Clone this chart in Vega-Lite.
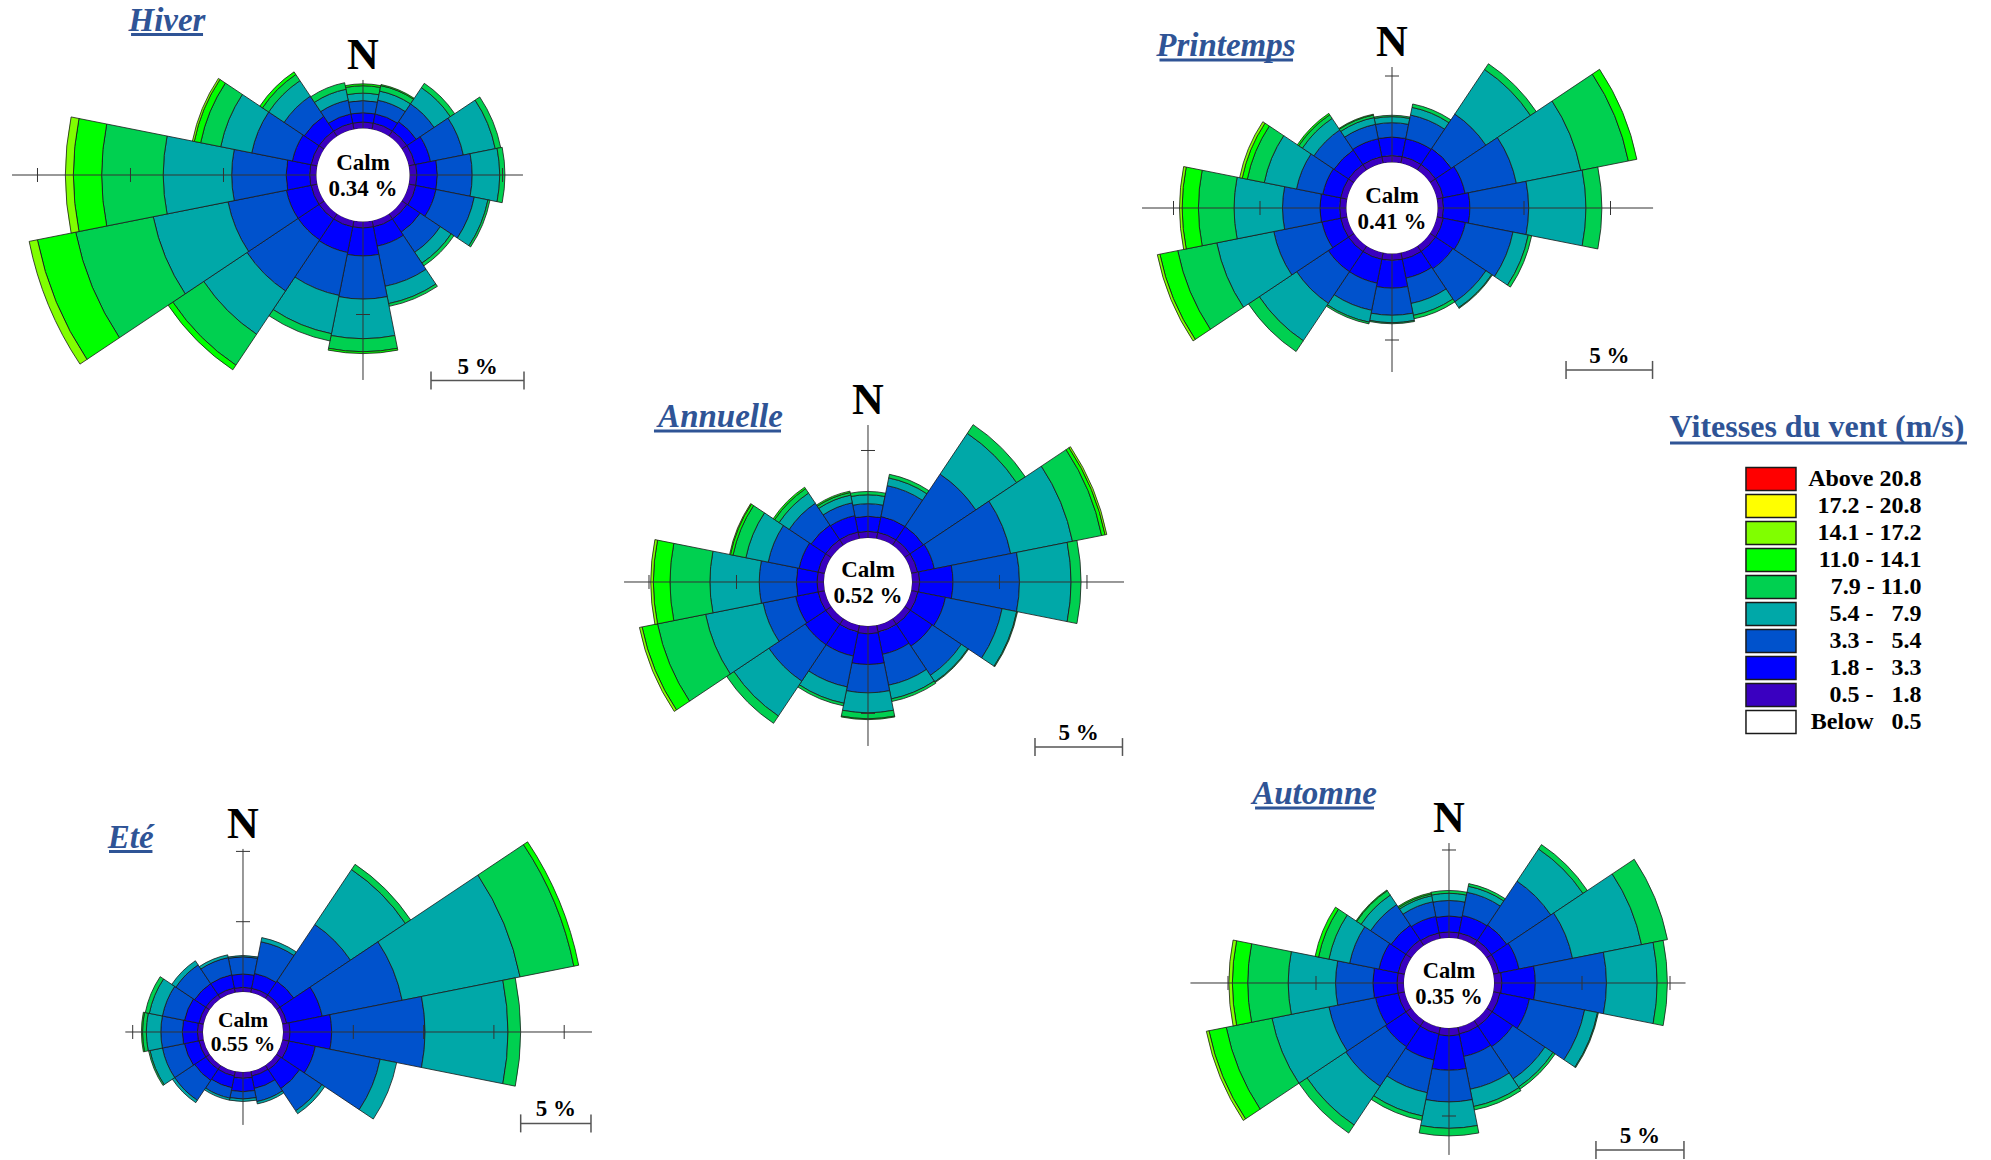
{
"$schema": "https://vega.github.io/schema/vega-lite/v6.json",
"padding": 0,
"background": "#ffffff",
"config": {"view": {"stroke": null}, "font": "Liberation Serif"},
"datasets": {
"calm": [{"s":"Hiver","t":"0.34 %"},{"s":"Printemps","t":"0.41 %"},{"s":"Annuelle","t":"0.52 %"},{"s":"Eté","t":"0.55 %"},{"s":"Automne","t":"0.35 %"}],
"rose": [
{"s":"Hiver","d":0,"c":1,"v":0.35},{"s":"Hiver","d":0,"c":2,"v":0.5},{"s":"Hiver","d":0,"c":3,"v":0.65},{"s":"Hiver","d":0,"c":4,"v":0.4},{"s":"Hiver","d":0,"c":5,"v":0.4},{"s":"Hiver","d":0,"c":6,"v":0.1},
{"s":"Hiver","d":22.5,"c":1,"v":0.35},{"s":"Hiver","d":22.5,"c":2,"v":0.5},{"s":"Hiver","d":22.5,"c":3,"v":0.75},{"s":"Hiver","d":22.5,"c":4,"v":0.5},{"s":"Hiver","d":22.5,"c":5,"v":0.3},{"s":"Hiver","d":22.5,"c":6,"v":0.06},
{"s":"Hiver","d":45,"c":1,"v":0.35},{"s":"Hiver","d":45,"c":2,"v":0.6},{"s":"Hiver","d":45,"c":3,"v":1.15},{"s":"Hiver","d":45,"c":4,"v":1.05},{"s":"Hiver","d":45,"c":5,"v":0.28},
{"s":"Hiver","d":67.5,"c":1,"v":0.35},{"s":"Hiver","d":67.5,"c":2,"v":0.85},{"s":"Hiver","d":67.5,"c":3,"v":1.8},{"s":"Hiver","d":67.5,"c":4,"v":1.75},{"s":"Hiver","d":67.5,"c":5,"v":0.3},
{"s":"Hiver","d":90,"c":1,"v":0.4},{"s":"Hiver","d":90,"c":2,"v":1.1},{"s":"Hiver","d":90,"c":3,"v":1.87},{"s":"Hiver","d":90,"c":4,"v":1.48},{"s":"Hiver","d":90,"c":5,"v":0.28},
{"s":"Hiver","d":112.5,"c":1,"v":0.4},{"s":"Hiver","d":112.5,"c":2,"v":1.1},{"s":"Hiver","d":112.5,"c":3,"v":2.1},{"s":"Hiver","d":112.5,"c":4,"v":0.75},{"s":"Hiver","d":112.5,"c":5,"v":0.11},
{"s":"Hiver","d":135,"c":1,"v":0.35},{"s":"Hiver","d":135,"c":2,"v":0.85},{"s":"Hiver","d":135,"c":3,"v":1.3},{"s":"Hiver","d":135,"c":4,"v":0.7},{"s":"Hiver","d":135,"c":5,"v":0.18},
{"s":"Hiver","d":157.5,"c":1,"v":0.35},{"s":"Hiver","d":157.5,"c":2,"v":1.05},{"s":"Hiver","d":157.5,"c":3,"v":2.2},{"s":"Hiver","d":157.5,"c":4,"v":0.95},{"s":"Hiver","d":157.5,"c":5,"v":0.15},
{"s":"Hiver","d":180,"c":1,"v":0.35},{"s":"Hiver","d":180,"c":2,"v":1.5},{"s":"Hiver","d":180,"c":3,"v":2.32},{"s":"Hiver","d":180,"c":4,"v":2.13},{"s":"Hiver","d":180,"c":5,"v":0.7},{"s":"Hiver","d":180,"c":6,"v":0.1},
{"s":"Hiver","d":202.5,"c":1,"v":0.35},{"s":"Hiver","d":202.5,"c":2,"v":1.4},{"s":"Hiver","d":202.5,"c":3,"v":2.35},{"s":"Hiver","d":202.5,"c":4,"v":2.1},{"s":"Hiver","d":202.5,"c":5,"v":0.4},
{"s":"Hiver","d":225,"c":1,"v":0.35},{"s":"Hiver","d":225,"c":2,"v":1.35},{"s":"Hiver","d":225,"c":3,"v":3.3},{"s":"Hiver","d":225,"c":4,"v":2.8},{"s":"Hiver","d":225,"c":5,"v":2.0},{"s":"Hiver","d":225,"c":6,"v":0.3},
{"s":"Hiver","d":247.5,"c":1,"v":0.35},{"s":"Hiver","d":247.5,"c":2,"v":1.35},{"s":"Hiver","d":247.5,"c":3,"v":3.2},{"s":"Hiver","d":247.5,"c":4,"v":4.1},{"s":"Hiver","d":247.5,"c":5,"v":4.25},{"s":"Hiver","d":247.5,"c":6,"v":2.1},{"s":"Hiver","d":247.5,"c":7,"v":0.45},
{"s":"Hiver","d":270,"c":1,"v":0.37},{"s":"Hiver","d":270,"c":2,"v":1.26},{"s":"Hiver","d":270,"c":3,"v":2.93},{"s":"Hiver","d":270,"c":4,"v":3.68},{"s":"Hiver","d":270,"c":5,"v":3.31},{"s":"Hiver","d":270,"c":6,"v":1.52},{"s":"Hiver","d":270,"c":7,"v":0.43},
{"s":"Hiver","d":292.5,"c":1,"v":0.35},{"s":"Hiver","d":292.5,"c":2,"v":1.02},{"s":"Hiver","d":292.5,"c":3,"v":2.23},{"s":"Hiver","d":292.5,"c":4,"v":1.7},{"s":"Hiver","d":292.5,"c":5,"v":1.1},{"s":"Hiver","d":292.5,"c":6,"v":0.35},{"s":"Hiver","d":292.5,"c":7,"v":0.1},
{"s":"Hiver","d":315,"c":1,"v":0.35},{"s":"Hiver","d":315,"c":2,"v":0.95},{"s":"Hiver","d":315,"c":3,"v":1.3},{"s":"Hiver","d":315,"c":4,"v":1.0},{"s":"Hiver","d":315,"c":5,"v":0.4},{"s":"Hiver","d":315,"c":6,"v":0.17},
{"s":"Hiver","d":337.5,"c":1,"v":0.35},{"s":"Hiver","d":337.5,"c":2,"v":0.5},{"s":"Hiver","d":337.5,"c":3,"v":0.75},{"s":"Hiver","d":337.5,"c":4,"v":0.6},{"s":"Hiver","d":337.5,"c":5,"v":0.36},

{"s":"Printemps","d":0,"c":1,"v":0.4},{"s":"Printemps","d":0,"c":2,"v":1.07},{"s":"Printemps","d":0,"c":3,"v":0.83},{"s":"Printemps","d":0,"c":4,"v":0.35},{"s":"Printemps","d":0,"c":5,"v":0.08},
{"s":"Printemps","d":22.5,"c":1,"v":0.4},{"s":"Printemps","d":22.5,"c":2,"v":1.05},{"s":"Printemps","d":22.5,"c":3,"v":1.4},{"s":"Printemps","d":22.5,"c":4,"v":0.45},{"s":"Printemps","d":22.5,"c":5,"v":0.2},
{"s":"Printemps","d":45,"c":1,"v":0.4},{"s":"Printemps","d":45,"c":2,"v":1.1},{"s":"Printemps","d":45,"c":3,"v":2.4},{"s":"Printemps","d":45,"c":4,"v":3.1},{"s":"Printemps","d":45,"c":5,"v":0.4},
{"s":"Printemps","d":67.5,"c":1,"v":0.4},{"s":"Printemps","d":67.5,"c":2,"v":1.28},{"s":"Printemps","d":67.5,"c":3,"v":3.02},{"s":"Printemps","d":67.5,"c":4,"v":3.8},{"s":"Printemps","d":67.5,"c":5,"v":2.8},{"s":"Printemps","d":67.5,"c":6,"v":0.5},
{"s":"Printemps","d":90,"c":1,"v":0.35},{"s":"Printemps","d":90,"c":2,"v":1.52},{"s":"Printemps","d":90,"c":3,"v":3.4},{"s":"Printemps","d":90,"c":4,"v":3.31},{"s":"Printemps","d":90,"c":5,"v":0.92},
{"s":"Printemps","d":112.5,"c":1,"v":0.4},{"s":"Printemps","d":112.5,"c":2,"v":1.3},{"s":"Printemps","d":112.5,"c":3,"v":2.8},{"s":"Printemps","d":112.5,"c":4,"v":0.9},{"s":"Printemps","d":112.5,"c":5,"v":0.2},
{"s":"Printemps","d":135,"c":1,"v":0.4},{"s":"Printemps","d":135,"c":2,"v":1.2},{"s":"Printemps","d":135,"c":3,"v":2.3},{"s":"Printemps","d":135,"c":4,"v":0.4},{"s":"Printemps","d":135,"c":5,"v":0.05},
{"s":"Printemps","d":157.5,"c":1,"v":0.4},{"s":"Printemps","d":157.5,"c":2,"v":1.1},{"s":"Printemps","d":157.5,"c":3,"v":1.5},{"s":"Printemps","d":157.5,"c":4,"v":0.7},{"s":"Printemps","d":157.5,"c":5,"v":0.2},
{"s":"Printemps","d":180,"c":1,"v":0.4},{"s":"Printemps","d":180,"c":2,"v":1.6},{"s":"Printemps","d":180,"c":3,"v":1.57},{"s":"Printemps","d":180,"c":4,"v":0.43},{"s":"Printemps","d":180,"c":5,"v":0.06},
{"s":"Printemps","d":202.5,"c":1,"v":0.4},{"s":"Printemps","d":202.5,"c":2,"v":1.4},{"s":"Printemps","d":202.5,"c":3,"v":1.6},{"s":"Printemps","d":202.5,"c":4,"v":0.7},{"s":"Printemps","d":202.5,"c":5,"v":0.1},
{"s":"Printemps","d":225,"c":1,"v":0.4},{"s":"Printemps","d":225,"c":2,"v":1.4},{"s":"Printemps","d":225,"c":3,"v":2.2},{"s":"Printemps","d":225,"c":4,"v":2.6},{"s":"Printemps","d":225,"c":5,"v":0.75},
{"s":"Printemps","d":247.5,"c":1,"v":0.4},{"s":"Printemps","d":247.5,"c":2,"v":1.1},{"s":"Printemps","d":247.5,"c":3,"v":2.84},{"s":"Printemps","d":247.5,"c":4,"v":3.36},{"s":"Printemps","d":247.5,"c":5,"v":2.3},{"s":"Printemps","d":247.5,"c":6,"v":1.05},{"s":"Printemps","d":247.5,"c":7,"v":0.15},
{"s":"Printemps","d":270,"c":1,"v":0.4},{"s":"Printemps","d":270,"c":2,"v":1.14},{"s":"Printemps","d":270,"c":3,"v":2.16},{"s":"Printemps","d":270,"c":4,"v":2.8},{"s":"Printemps","d":270,"c":5,"v":2.06},{"s":"Printemps","d":270,"c":6,"v":0.94},{"s":"Printemps","d":270,"c":7,"v":0.15},
{"s":"Printemps","d":292.5,"c":1,"v":0.4},{"s":"Printemps","d":292.5,"c":2,"v":1.05},{"s":"Printemps","d":292.5,"c":3,"v":1.55},{"s":"Printemps","d":292.5,"c":4,"v":1.9},{"s":"Printemps","d":292.5,"c":5,"v":1.0},{"s":"Printemps","d":292.5,"c":6,"v":0.3},{"s":"Printemps","d":292.5,"c":7,"v":0.15},
{"s":"Printemps","d":315,"c":1,"v":0.4},{"s":"Printemps","d":315,"c":2,"v":1.0},{"s":"Printemps","d":315,"c":3,"v":1.4},{"s":"Printemps","d":315,"c":4,"v":0.8},{"s":"Printemps","d":315,"c":5,"v":0.25},{"s":"Printemps","d":315,"c":6,"v":0.1},
{"s":"Printemps","d":337.5,"c":1,"v":0.4},{"s":"Printemps","d":337.5,"c":2,"v":1.05},{"s":"Printemps","d":337.5,"c":3,"v":0.85},{"s":"Printemps","d":337.5,"c":4,"v":0.4},{"s":"Printemps","d":337.5,"c":5,"v":0.15},{"s":"Printemps","d":337.5,"c":6,"v":0.05},

{"s":"Annuelle","d":0,"c":1,"v":0.38},{"s":"Annuelle","d":0,"c":2,"v":0.86},{"s":"Annuelle","d":0,"c":3,"v":0.72},{"s":"Annuelle","d":0,"c":4,"v":0.51},{"s":"Annuelle","d":0,"c":5,"v":0.19},
{"s":"Annuelle","d":22.5,"c":1,"v":0.38},{"s":"Annuelle","d":22.5,"c":2,"v":0.92},{"s":"Annuelle","d":22.5,"c":3,"v":1.8},{"s":"Annuelle","d":22.5,"c":4,"v":0.45},{"s":"Annuelle","d":22.5,"c":5,"v":0.21},
{"s":"Annuelle","d":45,"c":1,"v":0.38},{"s":"Annuelle","d":45,"c":2,"v":0.92},{"s":"Annuelle","d":45,"c":3,"v":3.6},{"s":"Annuelle","d":45,"c":4,"v":2.8},{"s":"Annuelle","d":45,"c":5,"v":0.6},
{"s":"Annuelle","d":67.5,"c":1,"v":0.38},{"s":"Annuelle","d":67.5,"c":2,"v":0.97},{"s":"Annuelle","d":67.5,"c":3,"v":4.45},{"s":"Annuelle","d":67.5,"c":4,"v":3.6},{"s":"Annuelle","d":67.5,"c":5,"v":1.7},{"s":"Annuelle","d":67.5,"c":6,"v":0.2},{"s":"Annuelle","d":67.5,"c":7,"v":0.1},
{"s":"Annuelle","d":90,"c":1,"v":0.44},{"s":"Annuelle","d":90,"c":2,"v":1.9},{"s":"Annuelle","d":90,"c":3,"v":3.8},{"s":"Annuelle","d":90,"c":4,"v":2.95},{"s":"Annuelle","d":90,"c":5,"v":0.57},
{"s":"Annuelle","d":112.5,"c":1,"v":0.4},{"s":"Annuelle","d":112.5,"c":2,"v":1.6},{"s":"Annuelle","d":112.5,"c":3,"v":3.3},{"s":"Annuelle","d":112.5,"c":4,"v":0.85},{"s":"Annuelle","d":112.5,"c":5,"v":0.05},
{"s":"Annuelle","d":135,"c":1,"v":0.4},{"s":"Annuelle","d":135,"c":2,"v":1.5},{"s":"Annuelle","d":135,"c":3,"v":2.0},{"s":"Annuelle","d":135,"c":4,"v":0.45},{"s":"Annuelle","d":135,"c":5,"v":0.05},
{"s":"Annuelle","d":157.5,"c":1,"v":0.4},{"s":"Annuelle","d":157.5,"c":2,"v":1.3},{"s":"Annuelle","d":157.5,"c":3,"v":1.8},{"s":"Annuelle","d":157.5,"c":4,"v":0.8},{"s":"Annuelle","d":157.5,"c":5,"v":0.15},
{"s":"Annuelle","d":180,"c":1,"v":0.45},{"s":"Annuelle","d":180,"c":2,"v":1.75},{"s":"Annuelle","d":180,"c":3,"v":1.62},{"s":"Annuelle","d":180,"c":4,"v":1.14},{"s":"Annuelle","d":180,"c":5,"v":0.34},{"s":"Annuelle","d":180,"c":6,"v":0.05},
{"s":"Annuelle","d":202.5,"c":1,"v":0.4},{"s":"Annuelle","d":202.5,"c":2,"v":1.4},{"s":"Annuelle","d":202.5,"c":3,"v":1.8},{"s":"Annuelle","d":202.5,"c":4,"v":0.95},{"s":"Annuelle","d":202.5,"c":5,"v":0.15},
{"s":"Annuelle","d":225,"c":1,"v":0.4},{"s":"Annuelle","d":225,"c":2,"v":1.4},{"s":"Annuelle","d":225,"c":3,"v":2.5},{"s":"Annuelle","d":225,"c":4,"v":2.4},{"s":"Annuelle","d":225,"c":5,"v":0.5},
{"s":"Annuelle","d":247.5,"c":1,"v":0.4},{"s":"Annuelle","d":247.5,"c":2,"v":1.3},{"s":"Annuelle","d":247.5,"c":3,"v":1.9},{"s":"Annuelle","d":247.5,"c":4,"v":3.35},{"s":"Annuelle","d":247.5,"c":5,"v":2.8},{"s":"Annuelle","d":247.5,"c":6,"v":0.9},{"s":"Annuelle","d":247.5,"c":7,"v":0.15},
{"s":"Annuelle","d":270,"c":1,"v":0.4},{"s":"Annuelle","d":270,"c":2,"v":1.18},{"s":"Annuelle","d":270,"c":3,"v":2.12},{"s":"Annuelle","d":270,"c":4,"v":2.82},{"s":"Annuelle","d":270,"c":5,"v":2.28},{"s":"Annuelle","d":270,"c":6,"v":0.95},{"s":"Annuelle","d":270,"c":7,"v":0.15},
{"s":"Annuelle","d":292.5,"c":1,"v":0.4},{"s":"Annuelle","d":292.5,"c":2,"v":1.1},{"s":"Annuelle","d":292.5,"c":3,"v":1.8},{"s":"Annuelle","d":292.5,"c":4,"v":1.3},{"s":"Annuelle","d":292.5,"c":5,"v":0.75},{"s":"Annuelle","d":292.5,"c":6,"v":0.15},{"s":"Annuelle","d":292.5,"c":7,"v":0.05},
{"s":"Annuelle","d":315,"c":1,"v":0.4},{"s":"Annuelle","d":315,"c":2,"v":1.0},{"s":"Annuelle","d":315,"c":3,"v":1.5},{"s":"Annuelle","d":315,"c":4,"v":0.7},{"s":"Annuelle","d":315,"c":5,"v":0.3},{"s":"Annuelle","d":315,"c":6,"v":0.1},
{"s":"Annuelle","d":337.5,"c":1,"v":0.4},{"s":"Annuelle","d":337.5,"c":2,"v":0.95},{"s":"Annuelle","d":337.5,"c":3,"v":0.75},{"s":"Annuelle","d":337.5,"c":4,"v":0.45},{"s":"Annuelle","d":337.5,"c":5,"v":0.15},{"s":"Annuelle","d":337.5,"c":6,"v":0.08},

{"s":"Eté","d":0,"c":1,"v":0.33},{"s":"Eté","d":0,"c":2,"v":0.95},{"s":"Eté","d":0,"c":3,"v":1.23},{"s":"Eté","d":0,"c":4,"v":0.09},
{"s":"Eté","d":22.5,"c":1,"v":0.33},{"s":"Eté","d":22.5,"c":2,"v":1.07},{"s":"Eté","d":22.5,"c":3,"v":2.3},{"s":"Eté","d":22.5,"c":4,"v":0.3},
{"s":"Eté","d":45,"c":1,"v":0.33},{"s":"Eté","d":45,"c":2,"v":1.17},{"s":"Eté","d":45,"c":3,"v":4.85},{"s":"Eté","d":45,"c":4,"v":4.7},{"s":"Eté","d":45,"c":5,"v":0.45},
{"s":"Eté","d":67.5,"c":1,"v":0.33},{"s":"Eté","d":67.5,"c":2,"v":2.57},{"s":"Eté","d":67.5,"c":3,"v":5.8},{"s":"Eté","d":67.5,"c":4,"v":8.55},{"s":"Eté","d":67.5,"c":5,"v":3.9},{"s":"Eté","d":67.5,"c":6,"v":0.35},
{"s":"Eté","d":90,"c":1,"v":0.5},{"s":"Eté","d":90,"c":2,"v":2.96},{"s":"Eté","d":90,"c":3,"v":6.64},{"s":"Eté","d":90,"c":4,"v":5.9},{"s":"Eté","d":90,"c":5,"v":0.9},
{"s":"Eté","d":112.5,"c":1,"v":0.5},{"s":"Eté","d":112.5,"c":2,"v":1.9},{"s":"Eté","d":112.5,"c":3,"v":4.7},{"s":"Eté","d":112.5,"c":4,"v":1.2},
{"s":"Eté","d":135,"c":1,"v":0.4},{"s":"Eté","d":135,"c":2,"v":1.6},{"s":"Eté","d":135,"c":3,"v":1.9},{"s":"Eté","d":135,"c":4,"v":0.25},
{"s":"Eté","d":157.5,"c":1,"v":0.35},{"s":"Eté","d":157.5,"c":2,"v":0.9},{"s":"Eté","d":157.5,"c":3,"v":0.95},{"s":"Eté","d":157.5,"c":4,"v":0.17},
{"s":"Eté","d":180,"c":1,"v":0.45},{"s":"Eté","d":180,"c":2,"v":0.95},{"s":"Eté","d":180,"c":3,"v":0.52},{"s":"Eté","d":180,"c":4,"v":0.18},
{"s":"Eté","d":202.5,"c":1,"v":0.35},{"s":"Eté","d":202.5,"c":2,"v":0.85},{"s":"Eté","d":202.5,"c":3,"v":0.75},{"s":"Eté","d":202.5,"c":4,"v":0.15},
{"s":"Eté","d":225,"c":1,"v":0.35},{"s":"Eté","d":225,"c":2,"v":0.95},{"s":"Eté","d":225,"c":3,"v":1.7},{"s":"Eté","d":225,"c":4,"v":0.2},
{"s":"Eté","d":247.5,"c":1,"v":0.35},{"s":"Eté","d":247.5,"c":2,"v":1.05},{"s":"Eté","d":247.5,"c":3,"v":1.6},{"s":"Eté","d":247.5,"c":4,"v":0.9},{"s":"Eté","d":247.5,"c":5,"v":0.1},
{"s":"Eté","d":270,"c":1,"v":0.4},{"s":"Eté","d":270,"c":2,"v":1.07},{"s":"Eté","d":270,"c":3,"v":1.53},{"s":"Eté","d":270,"c":4,"v":1.03},{"s":"Eté","d":270,"c":5,"v":0.27},{"s":"Eté","d":270,"c":6,"v":0.08},
{"s":"Eté","d":292.5,"c":1,"v":0.35},{"s":"Eté","d":292.5,"c":2,"v":1.05},{"s":"Eté","d":292.5,"c":3,"v":1.6},{"s":"Eté","d":292.5,"c":4,"v":0.95},{"s":"Eté","d":292.5,"c":5,"v":0.29},
{"s":"Eté","d":315,"c":1,"v":0.35},{"s":"Eté","d":315,"c":2,"v":0.95},{"s":"Eté","d":315,"c":3,"v":1.6},{"s":"Eté","d":315,"c":4,"v":0.35},
{"s":"Eté","d":337.5,"c":1,"v":0.35},{"s":"Eté","d":337.5,"c":2,"v":0.95},{"s":"Eté","d":337.5,"c":3,"v":1.25},{"s":"Eté","d":337.5,"c":4,"v":0.2},

{"s":"Automne","d":0,"c":1,"v":0.35},{"s":"Automne","d":0,"c":2,"v":0.9},{"s":"Automne","d":0,"c":3,"v":0.88},{"s":"Automne","d":0,"c":4,"v":0.41},{"s":"Automne","d":0,"c":5,"v":0.16},
{"s":"Automne","d":22.5,"c":1,"v":0.35},{"s":"Automne","d":22.5,"c":2,"v":1.0},{"s":"Automne","d":22.5,"c":3,"v":1.35},{"s":"Automne","d":22.5,"c":4,"v":0.35},{"s":"Automne","d":22.5,"c":5,"v":0.15},
{"s":"Automne","d":45,"c":1,"v":0.35},{"s":"Automne","d":45,"c":2,"v":1.05},{"s":"Automne","d":45,"c":3,"v":3.0},{"s":"Automne","d":45,"c":4,"v":2.2},{"s":"Automne","d":45,"c":5,"v":0.3},
{"s":"Automne","d":67.5,"c":1,"v":0.35},{"s":"Automne","d":67.5,"c":2,"v":1.15},{"s":"Automne","d":67.5,"c":3,"v":3.1},{"s":"Automne","d":67.5,"c":4,"v":4.0},{"s":"Automne","d":67.5,"c":5,"v":1.5},
{"s":"Automne","d":90,"c":1,"v":0.45},{"s":"Automne","d":90,"c":2,"v":1.9},{"s":"Automne","d":90,"c":3,"v":4.04},{"s":"Automne","d":90,"c":4,"v":2.88},{"s":"Automne","d":90,"c":5,"v":0.58},
{"s":"Automne","d":112.5,"c":1,"v":0.4},{"s":"Automne","d":112.5,"c":2,"v":1.7},{"s":"Automne","d":112.5,"c":3,"v":3.2},{"s":"Automne","d":112.5,"c":4,"v":0.75},{"s":"Automne","d":112.5,"c":5,"v":0.05},
{"s":"Automne","d":135,"c":1,"v":0.4},{"s":"Automne","d":135,"c":2,"v":1.4},{"s":"Automne","d":135,"c":3,"v":2.2},{"s":"Automne","d":135,"c":4,"v":0.55},{"s":"Automne","d":135,"c":5,"v":0.15},
{"s":"Automne","d":157.5,"c":1,"v":0.4},{"s":"Automne","d":157.5,"c":2,"v":1.3},{"s":"Automne","d":157.5,"c":3,"v":1.9},{"s":"Automne","d":157.5,"c":4,"v":1.0},{"s":"Automne","d":157.5,"c":5,"v":0.2},
{"s":"Automne","d":180,"c":1,"v":0.45},{"s":"Automne","d":180,"c":2,"v":1.95},{"s":"Automne","d":180,"c":3,"v":1.8},{"s":"Automne","d":180,"c":4,"v":1.5},{"s":"Automne","d":180,"c":5,"v":0.43},
{"s":"Automne","d":202.5,"c":1,"v":0.4},{"s":"Automne","d":202.5,"c":2,"v":1.5},{"s":"Automne","d":202.5,"c":3,"v":1.9},{"s":"Automne","d":202.5,"c":4,"v":1.35},{"s":"Automne","d":202.5,"c":5,"v":0.25},
{"s":"Automne","d":225,"c":1,"v":0.4},{"s":"Automne","d":225,"c":2,"v":1.4},{"s":"Automne","d":225,"c":3,"v":2.7},{"s":"Automne","d":225,"c":4,"v":2.65},{"s":"Automne","d":225,"c":5,"v":0.55},
{"s":"Automne","d":247.5,"c":1,"v":0.4},{"s":"Automne","d":247.5,"c":2,"v":1.3},{"s":"Automne","d":247.5,"c":3,"v":2.7},{"s":"Automne","d":247.5,"c":4,"v":3.3},{"s":"Automne","d":247.5,"c":5,"v":2.65},{"s":"Automne","d":247.5,"c":6,"v":1.0},{"s":"Automne","d":247.5,"c":7,"v":0.15},
{"s":"Automne","d":270,"c":1,"v":0.4},{"s":"Automne","d":270,"c":2,"v":1.37},{"s":"Automne","d":270,"c":3,"v":2.12},{"s":"Automne","d":270,"c":4,"v":2.69},{"s":"Automne","d":270,"c":5,"v":2.3},{"s":"Automne","d":270,"c":6,"v":0.87},{"s":"Automne","d":270,"c":7,"v":0.2},
{"s":"Automne","d":292.5,"c":1,"v":0.4},{"s":"Automne","d":292.5,"c":2,"v":1.1},{"s":"Automne","d":292.5,"c":3,"v":1.7},{"s":"Automne","d":292.5,"c":4,"v":1.2},{"s":"Automne","d":292.5,"c":5,"v":0.6},{"s":"Automne","d":292.5,"c":6,"v":0.2},
{"s":"Automne","d":315,"c":1,"v":0.4},{"s":"Automne","d":315,"c":2,"v":1.0},{"s":"Automne","d":315,"c":3,"v":1.4},{"s":"Automne","d":315,"c":4,"v":0.65},{"s":"Automne","d":315,"c":5,"v":0.3},{"s":"Automne","d":315,"c":6,"v":0.05},
{"s":"Automne","d":337.5,"c":1,"v":0.35},{"s":"Automne","d":337.5,"c":2,"v":0.95},{"s":"Automne","d":337.5,"c":3,"v":0.85},{"s":"Automne","d":337.5,"c":4,"v":0.35},{"s":"Automne","d":337.5,"c":5,"v":0.1},{"s":"Automne","d":337.5,"c":6,"v":0.07}
]},
"columns": 2,
"align": "none",
"bounds": "flush",
"spacing": {"row": 0, "column": 240},
"resolve": {"scale": {"theta": "independent", "radius": "independent", "x": "independent", "y": "independent"}},
"concat": [
{"width": 760, "height": 390, "data": {"values": [{}]},
 "encoding": {"x": {"datum": 0, "type": "quantitative", "axis": null, "scale": {"domain": [-19.516, 21.344], "nice": false, "zero": false}},
              "y": {"datum": 0, "type": "quantitative", "axis": null, "scale": {"domain": [-11.559, 9.409], "nice": false, "zero": false}}},
 "layer": [
  {"data": {"name": "rose"}, "transform": [{"filter": "datum.s == 'Hiver'"}, {"stack": "v", "groupby": ["d"], "sort": [{"field": "c", "order": "ascending"}], "as": ["r0", "r1"]}],
   "mark": {"type": "arc", "thetaOffset": -0.19635, "theta2Offset": 0.19635, "stroke": "#1a1a1a", "strokeWidth": 0.8},
   "encoding": {"theta": {"field": "d", "type": "quantitative", "stack": null, "scale": {"domain": [0, 360], "range": [0, 6.283185307]}}, "theta2": {"field": "d"},
     "radius": {"field": "r1", "type": "quantitative", "stack": null, "scale": {"type": "linear", "domain": [0, 20], "range": [46.5, 418.5], "zero": false, "nice": false}}, "radius2": {"field": "r0"},
     "color": {"field": "c", "type": "ordinal", "scale": {"domain": [9,8,7,6,5,4,3,2,1,0], "range": ["#FF0000","#FFFF00","#80FF00","#00FF00","#00D050","#00A8A8","#0052CC","#0000FF","#3A00C0","#FFFFFF"]},
       "legend": {"title": "Vitesses du vent (m/s)", "orient": "none", "legendX": 1670, "legendY": 412, "titleFont": "Liberation Serif", "titleFontSize": 32, "titleFontWeight": "bold", "titleColor": "#2F5496", "titleAnchor": "middle", "titleAlign": "center", "titlePadding": 22.5, "titleLimit": 500, "labelFont": "Liberation Serif", "labelFontSize": 24, "labelFontWeight": "bold", "labelColor": "#000000", "labelAlign": "right", "labelOffset": 183.5, "labelLimit": 300, "labelExpr": "['Below \u20070.5','0.5 - \u20071.8','1.8 - \u20073.3','3.3 - \u20075.4','5.4 - \u20077.9','7.9 - 11.0','11.0 - 14.1','14.1 - 17.2','17.2 - 20.8','Above 20.8'][datum.value]", "symbolType": "M1.78,-1H6.13V1H1.78Z", "symbolSize": 529, "symbolStrokeColor": "#1a1a1a", "symbolStrokeWidth": 1.5, "symbolOpacity": 1, "rowPadding": -3}}}},
  {"mark": {"type": "rule", "color": "#333333", "strokeWidth": 1}, "encoding": {"x": {"datum": -18.87, "axis": null}, "x2": {"datum": 8.6}}},
  {"mark": {"type": "rule", "color": "#333333", "strokeWidth": 1}, "encoding": {"y": {"datum": 5.11, "axis": null}, "y2": {"datum": -11.02}}},
  {"mark": {"type": "rule", "color": "#333333", "strokeWidth": 1}, "encoding": {"x": {"datum": -7.5, "axis": null}, "y": {"datum": -0.376, "axis": null}, "y2": {"datum": 0.376}}},
  {"mark": {"type": "rule", "color": "#333333", "strokeWidth": 1}, "encoding": {"x": {"datum": -12.5, "axis": null}, "y": {"datum": -0.376, "axis": null}, "y2": {"datum": 0.376}}},
  {"mark": {"type": "rule", "color": "#333333", "strokeWidth": 1}, "encoding": {"x": {"datum": -17.5, "axis": null}, "y": {"datum": -0.376, "axis": null}, "y2": {"datum": 0.376}}},
  {"mark": {"type": "rule", "color": "#333333", "strokeWidth": 1}, "encoding": {"x": {"datum": 7.5, "axis": null}, "y": {"datum": -0.376, "axis": null}, "y2": {"datum": 0.376}}},
  {"mark": {"type": "rule", "color": "#333333", "strokeWidth": 1}, "encoding": {"x": {"datum": -0.376, "axis": null}, "x2": {"datum": 0.376}, "y": {"datum": -7.5, "axis": null}}},
  {"mark": {"type": "arc", "fill": "#ffffff", "strokeWidth": 0, "radius2": 0}, "encoding": {"theta": {"datum": 0, "type": "quantitative"}, "theta2": {"datum": 360}, "radius": {"datum": 0, "type": "quantitative"}}},
  {"mark": {"type": "text", "fontWeight": "bold", "fontSize": 23, "dy": -5, "baseline": "alphabetic", "align": "center"}, "encoding": {"text": {"value": "Calm"}}},
  {"data": {"name": "calm"}, "transform": [{"filter": "datum.s == 'Hiver'"}], "mark": {"type": "text", "fontWeight": "bold", "fontSize": 23, "dy": 21, "baseline": "alphabetic", "align": "center"}, "encoding": {"text": {"field": "t"}}},
  {"mark": {"type": "text", "fontWeight": "bold", "fontSize": 44, "dy": -11, "baseline": "alphabetic", "align": "center"}, "encoding": {"y": {"datum": 5.11, "axis": null}, "text": {"value": "N"}}},
  {"mark": {"type": "rule", "color": "#555555", "strokeWidth": 1.5}, "encoding": {"x": {"datum": 3.656, "axis": null}, "x2": {"datum": 8.656}, "y": {"datum": -11.05, "axis": null}}},
  {"mark": {"type": "rule", "color": "#555555", "strokeWidth": 1.5}, "encoding": {"x": {"datum": 3.656, "axis": null}, "y": {"datum": -11.53, "axis": null}, "y2": {"datum": -10.57}}},
  {"mark": {"type": "rule", "color": "#555555", "strokeWidth": 1.5}, "encoding": {"x": {"datum": 8.656, "axis": null}, "y": {"datum": -11.53, "axis": null}, "y2": {"datum": -10.57}}},
  {"mark": {"type": "text", "fontWeight": "bold", "fontSize": 23, "dy": -7, "baseline": "alphabetic", "align": "center"}, "encoding": {"x": {"datum": 6.156, "axis": null}, "y": {"datum": -11.05, "axis": null}, "text": {"value": "5 %"}}},
  {"mark": {"type": "text", "fontWeight": "bold", "fontStyle": "italic", "fontSize": 33, "color": "#2F5496", "baseline": "alphabetic", "align": "center"}, "encoding": {"x": {"datum": -10.54, "axis": null}, "y": {"datum": 7.74, "axis": null}, "text": {"value": "Hiver"}}},
  {"mark": {"type": "rule", "color": "#2F5496", "strokeWidth": 3}, "encoding": {"x": {"datum": -12.47, "axis": null}, "x2": {"datum": -8.6}, "y": {"datum": 7.55, "axis": null}}}
 ]},
{"width": 700, "height": 390, "data": {"values": [{}]},
 "encoding": {"x": {"datum": 0, "type": "quantitative", "axis": null, "scale": {"domain": [-22.659, 17.803], "nice": false, "zero": false}},
              "y": {"datum": 0, "type": "quantitative", "axis": null, "scale": {"domain": [-10.52, 12.023], "nice": false, "zero": false}}},
 "layer": [
  {"data": {"name": "rose"}, "transform": [{"filter": "datum.s == 'Printemps'"}, {"stack": "v", "groupby": ["d"], "sort": [{"field": "c", "order": "ascending"}], "as": ["r0", "r1"]}],
   "mark": {"type": "arc", "thetaOffset": -0.19635, "theta2Offset": 0.19635, "stroke": "#1a1a1a", "strokeWidth": 0.8},
   "encoding": {"theta": {"field": "d", "type": "quantitative", "stack": null, "scale": {"domain": [0, 360], "range": [0, 6.283185307]}}, "theta2": {"field": "d"},
     "radius": {"field": "r1", "type": "quantitative", "stack": null, "scale": {"type": "linear", "domain": [0, 20], "range": [45.5, 391.5], "zero": false, "nice": false}}, "radius2": {"field": "r0"},
     "color": {"field": "c", "type": "ordinal", "scale": {"domain": [9,8,7,6,5,4,3,2,1,0], "range": ["#FF0000","#FFFF00","#80FF00","#00FF00","#00D050","#00A8A8","#0052CC","#0000FF","#3A00C0","#FFFFFF"]}}}},
  {"mark": {"type": "rule", "color": "#333333", "strokeWidth": 1}, "encoding": {"x": {"datum": -14.45, "axis": null}, "x2": {"datum": 15.09}}},
  {"mark": {"type": "rule", "color": "#333333", "strokeWidth": 1}, "encoding": {"y": {"datum": 8.15, "axis": null}, "y2": {"datum": -9.48}}},
  {"mark": {"type": "rule", "color": "#333333", "strokeWidth": 1}, "encoding": {"x": {"datum": -7.63, "axis": null}, "y": {"datum": -0.405, "axis": null}, "y2": {"datum": 0.405}}},
  {"mark": {"type": "rule", "color": "#333333", "strokeWidth": 1}, "encoding": {"x": {"datum": -12.63, "axis": null}, "y": {"datum": -0.405, "axis": null}, "y2": {"datum": 0.405}}},
  {"mark": {"type": "rule", "color": "#333333", "strokeWidth": 1}, "encoding": {"x": {"datum": 7.63, "axis": null}, "y": {"datum": -0.405, "axis": null}, "y2": {"datum": 0.405}}},
  {"mark": {"type": "rule", "color": "#333333", "strokeWidth": 1}, "encoding": {"x": {"datum": 12.63, "axis": null}, "y": {"datum": -0.405, "axis": null}, "y2": {"datum": 0.405}}},
  {"mark": {"type": "rule", "color": "#333333", "strokeWidth": 1}, "encoding": {"x": {"datum": -0.405, "axis": null}, "x2": {"datum": 0.405}, "y": {"datum": 7.63, "axis": null}}},
  {"mark": {"type": "rule", "color": "#333333", "strokeWidth": 1}, "encoding": {"x": {"datum": -0.405, "axis": null}, "x2": {"datum": 0.405}, "y": {"datum": -7.63, "axis": null}}},
  {"mark": {"type": "arc", "fill": "#ffffff", "strokeWidth": 0, "radius2": 0}, "encoding": {"theta": {"datum": 0, "type": "quantitative"}, "theta2": {"datum": 360}, "radius": {"datum": 0, "type": "quantitative"}}},
  {"mark": {"type": "text", "fontWeight": "bold", "fontSize": 23, "dy": -5, "baseline": "alphabetic", "align": "center"}, "encoding": {"text": {"value": "Calm"}}},
  {"data": {"name": "calm"}, "transform": [{"filter": "datum.s == 'Printemps'"}], "mark": {"type": "text", "fontWeight": "bold", "fontSize": 23, "dy": 21, "baseline": "alphabetic", "align": "center"}, "encoding": {"text": {"field": "t"}}},
  {"mark": {"type": "text", "fontWeight": "bold", "fontSize": 44, "dy": -11, "baseline": "alphabetic", "align": "center"}, "encoding": {"y": {"datum": 8.15, "axis": null}, "text": {"value": "N"}}},
  {"mark": {"type": "rule", "color": "#555555", "strokeWidth": 1.5}, "encoding": {"x": {"datum": 10.06, "axis": null}, "x2": {"datum": 15.06}, "y": {"datum": -9.36, "axis": null}}},
  {"mark": {"type": "rule", "color": "#555555", "strokeWidth": 1.5}, "encoding": {"x": {"datum": 10.06, "axis": null}, "y": {"datum": -9.88, "axis": null}, "y2": {"datum": -8.84}}},
  {"mark": {"type": "rule", "color": "#555555", "strokeWidth": 1.5}, "encoding": {"x": {"datum": 15.06, "axis": null}, "y": {"datum": -9.88, "axis": null}, "y2": {"datum": -8.84}}},
  {"mark": {"type": "text", "fontWeight": "bold", "fontSize": 23, "dy": -7, "baseline": "alphabetic", "align": "center"}, "encoding": {"x": {"datum": 12.56, "axis": null}, "y": {"datum": -9.36, "axis": null}, "text": {"value": "5 %"}}},
  {"mark": {"type": "text", "fontWeight": "bold", "fontStyle": "italic", "fontSize": 33, "color": "#2F5496", "baseline": "alphabetic", "align": "center"}, "encoding": {"x": {"datum": -9.6, "axis": null}, "y": {"datum": 8.79, "axis": null}, "text": {"value": "Printemps"}}},
  {"mark": {"type": "rule", "color": "#2F5496", "strokeWidth": 3}, "encoding": {"x": {"datum": -13.44, "axis": null}, "x2": {"datum": -5.72}, "y": {"datum": 8.55, "axis": null}}}
 ]},
{"width": 760, "height": 380, "data": {"values": [{}]},
 "encoding": {"x": {"datum": 0, "type": "quantitative", "axis": null, "scale": {"domain": [-49.6, -6.171], "nice": false, "zero": false}},
              "y": {"datum": 0, "type": "quantitative", "axis": null, "scale": {"domain": [-10.743, 10.971], "nice": false, "zero": false}}},
 "layer": [
  {"data": {"name": "rose"}, "transform": [{"filter": "datum.s == 'Annuelle'"}, {"stack": "v", "groupby": ["d"], "sort": [{"field": "c", "order": "ascending"}], "as": ["r0", "r1"]}],
   "mark": {"type": "arc", "thetaOffset": -0.19635, "theta2Offset": 0.19635, "stroke": "#1a1a1a", "strokeWidth": 0.8},
   "encoding": {"theta": {"field": "d", "type": "quantitative", "stack": null, "scale": {"domain": [0, 360], "range": [0, 6.283185307]}}, "theta2": {"field": "d"},
     "radius": {"field": "r1", "type": "quantitative", "stack": null, "scale": {"type": "linear", "domain": [0, 20], "range": [44, 394], "zero": false, "nice": false}}, "radius2": {"field": "r0"},
     "color": {"field": "c", "type": "ordinal", "scale": {"domain": [9,8,7,6,5,4,3,2,1,0], "range": ["#FF0000","#FFFF00","#80FF00","#00FF00","#00D050","#00A8A8","#0052CC","#0000FF","#3A00C0","#FFFFFF"]}}}},
  {"mark": {"type": "rule", "color": "#333333", "strokeWidth": 1}, "encoding": {"x": {"datum": -13.94, "axis": null}, "x2": {"datum": 14.63}}},
  {"mark": {"type": "rule", "color": "#333333", "strokeWidth": 1}, "encoding": {"y": {"datum": 8.97, "axis": null}, "y2": {"datum": -9.37}}},
  {"mark": {"type": "rule", "color": "#333333", "strokeWidth": 1}, "encoding": {"x": {"datum": -7.514, "axis": null}, "y": {"datum": -0.4, "axis": null}, "y2": {"datum": 0.4}}},
  {"mark": {"type": "rule", "color": "#333333", "strokeWidth": 1}, "encoding": {"x": {"datum": -12.514, "axis": null}, "y": {"datum": -0.4, "axis": null}, "y2": {"datum": 0.4}}},
  {"mark": {"type": "rule", "color": "#333333", "strokeWidth": 1}, "encoding": {"x": {"datum": 7.514, "axis": null}, "y": {"datum": -0.4, "axis": null}, "y2": {"datum": 0.4}}},
  {"mark": {"type": "rule", "color": "#333333", "strokeWidth": 1}, "encoding": {"x": {"datum": 12.514, "axis": null}, "y": {"datum": -0.4, "axis": null}, "y2": {"datum": 0.4}}},
  {"mark": {"type": "rule", "color": "#333333", "strokeWidth": 1}, "encoding": {"x": {"datum": -0.4, "axis": null}, "x2": {"datum": 0.4}, "y": {"datum": 7.514, "axis": null}}},
  {"mark": {"type": "rule", "color": "#333333", "strokeWidth": 1}, "encoding": {"x": {"datum": -0.4, "axis": null}, "x2": {"datum": 0.4}, "y": {"datum": -7.514, "axis": null}}},
  {"mark": {"type": "arc", "fill": "#ffffff", "strokeWidth": 0, "radius2": 0}, "encoding": {"theta": {"datum": 0, "type": "quantitative"}, "theta2": {"datum": 360}, "radius": {"datum": 0, "type": "quantitative"}}},
  {"mark": {"type": "text", "fontWeight": "bold", "fontSize": 23, "dy": -5, "baseline": "alphabetic", "align": "center"}, "encoding": {"text": {"value": "Calm"}}},
  {"data": {"name": "calm"}, "transform": [{"filter": "datum.s == 'Annuelle'"}], "mark": {"type": "text", "fontWeight": "bold", "fontSize": 23, "dy": 21, "baseline": "alphabetic", "align": "center"}, "encoding": {"text": {"field": "t"}}},
  {"mark": {"type": "text", "fontWeight": "bold", "fontSize": 44, "dy": -11, "baseline": "alphabetic", "align": "center"}, "encoding": {"y": {"datum": 8.97, "axis": null}, "text": {"value": "N"}}},
  {"mark": {"type": "rule", "color": "#555555", "strokeWidth": 1.5}, "encoding": {"x": {"datum": 9.543, "axis": null}, "x2": {"datum": 14.543}, "y": {"datum": -9.43, "axis": null}}},
  {"mark": {"type": "rule", "color": "#555555", "strokeWidth": 1.5}, "encoding": {"x": {"datum": 9.543, "axis": null}, "y": {"datum": -9.94, "axis": null}, "y2": {"datum": -8.92}}},
  {"mark": {"type": "rule", "color": "#555555", "strokeWidth": 1.5}, "encoding": {"x": {"datum": 14.543, "axis": null}, "y": {"datum": -9.94, "axis": null}, "y2": {"datum": -8.92}}},
  {"mark": {"type": "text", "fontWeight": "bold", "fontSize": 23, "dy": -7, "baseline": "alphabetic", "align": "center"}, "encoding": {"x": {"datum": 12.043, "axis": null}, "y": {"datum": -9.43, "axis": null}, "text": {"value": "5 %"}}},
  {"mark": {"type": "text", "fontWeight": "bold", "fontStyle": "italic", "fontSize": 33, "color": "#2F5496", "baseline": "alphabetic", "align": "center"}, "encoding": {"x": {"datum": -8.43, "axis": null}, "y": {"datum": 8.857, "axis": null}, "text": {"value": "Annuelle"}}},
  {"mark": {"type": "rule", "color": "#2F5496", "strokeWidth": 3}, "encoding": {"x": {"datum": -12.23, "axis": null}, "x2": {"datum": -4.97}, "y": {"datum": 8.63, "axis": null}}},
  {"mark": {"type": "rule", "color": "#2F5496", "strokeWidth": 3}, "encoding": {"x": {"datum": 45.83, "axis": null}, "x2": {"datum": 62.8}, "y": {"datum": 7.94, "axis": null}}}
 ]},
{"width": 10, "height": 380, "data": {"values": [{}]}, "mark": {"type": "point", "opacity": 0}, "encoding": {}},
{"width": 760, "height": 390, "data": {"values": [{}]},
 "encoding": {"x": {"datum": 0, "type": "quantitative", "axis": null, "scale": {"domain": [-17.283, 36.771], "nice": false, "zero": false}},
              "y": {"datum": 0, "type": "quantitative", "axis": null, "scale": {"domain": [-9.104, 18.634], "nice": false, "zero": false}}},
 "layer": [
  {"data": {"name": "rose"}, "transform": [{"filter": "datum.s == 'Eté'"}, {"stack": "v", "groupby": ["d"], "sort": [{"field": "c", "order": "ascending"}], "as": ["r0", "r1"]}],
   "mark": {"type": "arc", "thetaOffset": -0.19635, "theta2Offset": 0.19635, "stroke": "#1a1a1a", "strokeWidth": 0.8},
   "encoding": {"theta": {"field": "d", "type": "quantitative", "stack": null, "scale": {"domain": [0, 360], "range": [0, 6.283185307]}}, "theta2": {"field": "d"},
     "radius": {"field": "r1", "type": "quantitative", "stack": null, "scale": {"type": "linear", "domain": [0, 25], "range": [40, 391.5], "zero": false, "nice": false}}, "radius2": {"field": "r0"},
     "color": {"field": "c", "type": "ordinal", "scale": {"domain": [9,8,7,6,5,4,3,2,1,0], "range": ["#FF0000","#FFFF00","#80FF00","#00FF00","#00D050","#00A8A8","#0052CC","#0000FF","#3A00C0","#FFFFFF"]}}}},
  {"mark": {"type": "rule", "color": "#333333", "strokeWidth": 1}, "encoding": {"x": {"datum": -8.37, "axis": null}, "x2": {"datum": 24.82}}},
  {"mark": {"type": "rule", "color": "#333333", "strokeWidth": 1}, "encoding": {"y": {"datum": 13.02, "axis": null}, "y2": {"datum": -6.61}}},
  {"mark": {"type": "rule", "color": "#333333", "strokeWidth": 1}, "encoding": {"x": {"datum": -7.845, "axis": null}, "y": {"datum": -0.498, "axis": null}, "y2": {"datum": 0.498}}},
  {"mark": {"type": "rule", "color": "#333333", "strokeWidth": 1}, "encoding": {"x": {"datum": 7.845, "axis": null}, "y": {"datum": -0.498, "axis": null}, "y2": {"datum": 0.498}}},
  {"mark": {"type": "rule", "color": "#333333", "strokeWidth": 1}, "encoding": {"x": {"datum": 12.845, "axis": null}, "y": {"datum": -0.498, "axis": null}, "y2": {"datum": 0.498}}},
  {"mark": {"type": "rule", "color": "#333333", "strokeWidth": 1}, "encoding": {"x": {"datum": 17.845, "axis": null}, "y": {"datum": -0.498, "axis": null}, "y2": {"datum": 0.498}}},
  {"mark": {"type": "rule", "color": "#333333", "strokeWidth": 1}, "encoding": {"x": {"datum": 22.845, "axis": null}, "y": {"datum": -0.498, "axis": null}, "y2": {"datum": 0.498}}},
  {"mark": {"type": "rule", "color": "#333333", "strokeWidth": 1}, "encoding": {"x": {"datum": -0.498, "axis": null}, "x2": {"datum": 0.498}, "y": {"datum": 7.845, "axis": null}}},
  {"mark": {"type": "rule", "color": "#333333", "strokeWidth": 1}, "encoding": {"x": {"datum": -0.498, "axis": null}, "x2": {"datum": 0.498}, "y": {"datum": 12.845, "axis": null}}},
  {"mark": {"type": "arc", "fill": "#ffffff", "strokeWidth": 0, "radius2": 0}, "encoding": {"theta": {"datum": 0, "type": "quantitative"}, "theta2": {"datum": 360}, "radius": {"datum": 0, "type": "quantitative"}}},
  {"mark": {"type": "text", "fontWeight": "bold", "fontSize": 21.5, "dy": -5, "baseline": "alphabetic", "align": "center"}, "encoding": {"text": {"value": "Calm"}}},
  {"data": {"name": "calm"}, "transform": [{"filter": "datum.s == 'Eté'"}], "mark": {"type": "text", "fontWeight": "bold", "fontSize": 21.5, "dy": 19, "baseline": "alphabetic", "align": "center"}, "encoding": {"text": {"field": "t"}}},
  {"mark": {"type": "text", "fontWeight": "bold", "fontSize": 44, "dy": -11, "baseline": "alphabetic", "align": "center"}, "encoding": {"y": {"datum": 13.02, "axis": null}, "text": {"value": "N"}}},
  {"mark": {"type": "rule", "color": "#555555", "strokeWidth": 1.5}, "encoding": {"x": {"datum": 19.75, "axis": null}, "x2": {"datum": 24.75}, "y": {"datum": -6.5, "axis": null}}},
  {"mark": {"type": "rule", "color": "#555555", "strokeWidth": 1.5}, "encoding": {"x": {"datum": 19.75, "axis": null}, "y": {"datum": -7.14, "axis": null}, "y2": {"datum": -5.86}}},
  {"mark": {"type": "rule", "color": "#555555", "strokeWidth": 1.5}, "encoding": {"x": {"datum": 24.75, "axis": null}, "y": {"datum": -7.14, "axis": null}, "y2": {"datum": -5.86}}},
  {"mark": {"type": "text", "fontWeight": "bold", "fontSize": 23, "dy": -7, "baseline": "alphabetic", "align": "center"}, "encoding": {"x": {"datum": 22.25, "axis": null}, "y": {"datum": -6.5, "axis": null}, "text": {"value": "5 %"}}},
  {"mark": {"type": "text", "fontWeight": "bold", "fontStyle": "italic", "fontSize": 33, "color": "#2F5496", "baseline": "alphabetic", "align": "center"}, "encoding": {"x": {"datum": -7.99, "axis": null}, "y": {"datum": 13.12, "axis": null}, "text": {"value": "Eté"}}},
  {"mark": {"type": "rule", "color": "#2F5496", "strokeWidth": 3}, "encoding": {"x": {"datum": -9.53, "axis": null}, "x2": {"datum": -6.44}, "y": {"datum": 12.84, "axis": null}}}
 ]},
{"width": 900, "height": 390, "data": {"values": [{}]},
 "encoding": {"x": {"datum": 0, "type": "quantitative", "axis": null, "scale": {"domain": [-25.511, 25.625], "nice": false, "zero": false}},
              "y": {"datum": 0, "type": "quantitative", "axis": null, "scale": {"domain": [-10.057, 12.102], "nice": false, "zero": false}}},
 "layer": [
  {"data": {"name": "rose"}, "transform": [{"filter": "datum.s == 'Automne'"}, {"stack": "v", "groupby": ["d"], "sort": [{"field": "c", "order": "ascending"}], "as": ["r0", "r1"]}],
   "mark": {"type": "arc", "thetaOffset": -0.19635, "theta2Offset": 0.19635, "stroke": "#1a1a1a", "strokeWidth": 0.8},
   "encoding": {"theta": {"field": "d", "type": "quantitative", "stack": null, "scale": {"domain": [0, 360], "range": [0, 6.283185307]}}, "theta2": {"field": "d"},
     "radius": {"field": "r1", "type": "quantitative", "stack": null, "scale": {"type": "linear", "domain": [0, 20], "range": [45, 397], "zero": false, "nice": false}}, "radius2": {"field": "r0"},
     "color": {"field": "c", "type": "ordinal", "scale": {"domain": [9,8,7,6,5,4,3,2,1,0], "range": ["#FF0000","#FFFF00","#80FF00","#00FF00","#00D050","#00A8A8","#0052CC","#0000FF","#3A00C0","#FFFFFF"]}}}},
  {"mark": {"type": "rule", "color": "#333333", "strokeWidth": 1}, "encoding": {"x": {"datum": -14.69, "axis": null}, "x2": {"datum": 13.44}}},
  {"mark": {"type": "rule", "color": "#333333", "strokeWidth": 1}, "encoding": {"y": {"datum": 7.95, "axis": null}, "y2": {"datum": -9.77}}},
  {"mark": {"type": "rule", "color": "#333333", "strokeWidth": 1}, "encoding": {"x": {"datum": -7.557, "axis": null}, "y": {"datum": -0.398, "axis": null}, "y2": {"datum": 0.398}}},
  {"mark": {"type": "rule", "color": "#333333", "strokeWidth": 1}, "encoding": {"x": {"datum": -12.557, "axis": null}, "y": {"datum": -0.398, "axis": null}, "y2": {"datum": 0.398}}},
  {"mark": {"type": "rule", "color": "#333333", "strokeWidth": 1}, "encoding": {"x": {"datum": 7.557, "axis": null}, "y": {"datum": -0.398, "axis": null}, "y2": {"datum": 0.398}}},
  {"mark": {"type": "rule", "color": "#333333", "strokeWidth": 1}, "encoding": {"x": {"datum": 12.557, "axis": null}, "y": {"datum": -0.398, "axis": null}, "y2": {"datum": 0.398}}},
  {"mark": {"type": "rule", "color": "#333333", "strokeWidth": 1}, "encoding": {"x": {"datum": -0.398, "axis": null}, "x2": {"datum": 0.398}, "y": {"datum": 7.557, "axis": null}}},
  {"mark": {"type": "rule", "color": "#333333", "strokeWidth": 1}, "encoding": {"x": {"datum": -0.398, "axis": null}, "x2": {"datum": 0.398}, "y": {"datum": -7.557, "axis": null}}},
  {"mark": {"type": "arc", "fill": "#ffffff", "strokeWidth": 0, "radius2": 0}, "encoding": {"theta": {"datum": 0, "type": "quantitative"}, "theta2": {"datum": 360}, "radius": {"datum": 0, "type": "quantitative"}}},
  {"mark": {"type": "text", "fontWeight": "bold", "fontSize": 22.5, "dy": -5, "baseline": "alphabetic", "align": "center"}, "encoding": {"text": {"value": "Calm"}}},
  {"data": {"name": "calm"}, "transform": [{"filter": "datum.s == 'Automne'"}], "mark": {"type": "text", "fontWeight": "bold", "fontSize": 22.5, "dy": 21, "baseline": "alphabetic", "align": "center"}, "encoding": {"text": {"field": "t"}}},
  {"mark": {"type": "text", "fontWeight": "bold", "fontSize": 44, "dy": -11, "baseline": "alphabetic", "align": "center"}, "encoding": {"y": {"datum": 7.95, "axis": null}, "text": {"value": "N"}}},
  {"mark": {"type": "rule", "color": "#555555", "strokeWidth": 1.5}, "encoding": {"x": {"datum": 8.35, "axis": null}, "x2": {"datum": 13.35}, "y": {"datum": -9.49, "axis": null}}},
  {"mark": {"type": "rule", "color": "#555555", "strokeWidth": 1.5}, "encoding": {"x": {"datum": 8.35, "axis": null}, "y": {"datum": -10.0, "axis": null}, "y2": {"datum": -8.98}}},
  {"mark": {"type": "rule", "color": "#555555", "strokeWidth": 1.5}, "encoding": {"x": {"datum": 13.35, "axis": null}, "y": {"datum": -10.0, "axis": null}, "y2": {"datum": -8.98}}},
  {"mark": {"type": "text", "fontWeight": "bold", "fontSize": 23, "dy": -7, "baseline": "alphabetic", "align": "center"}, "encoding": {"x": {"datum": 10.85, "axis": null}, "y": {"datum": -9.49, "axis": null}, "text": {"value": "5 %"}}},
  {"mark": {"type": "text", "fontWeight": "bold", "fontStyle": "italic", "fontSize": 33, "color": "#2F5496", "baseline": "alphabetic", "align": "center"}, "encoding": {"x": {"datum": -7.64, "axis": null}, "y": {"datum": 10.17, "axis": null}, "text": {"value": "Automne"}}},
  {"mark": {"type": "rule", "color": "#2F5496", "strokeWidth": 3}, "encoding": {"x": {"datum": -11.02, "axis": null}, "x2": {"datum": -4.26}, "y": {"datum": 9.94, "axis": null}}}
 ]}
]
}
